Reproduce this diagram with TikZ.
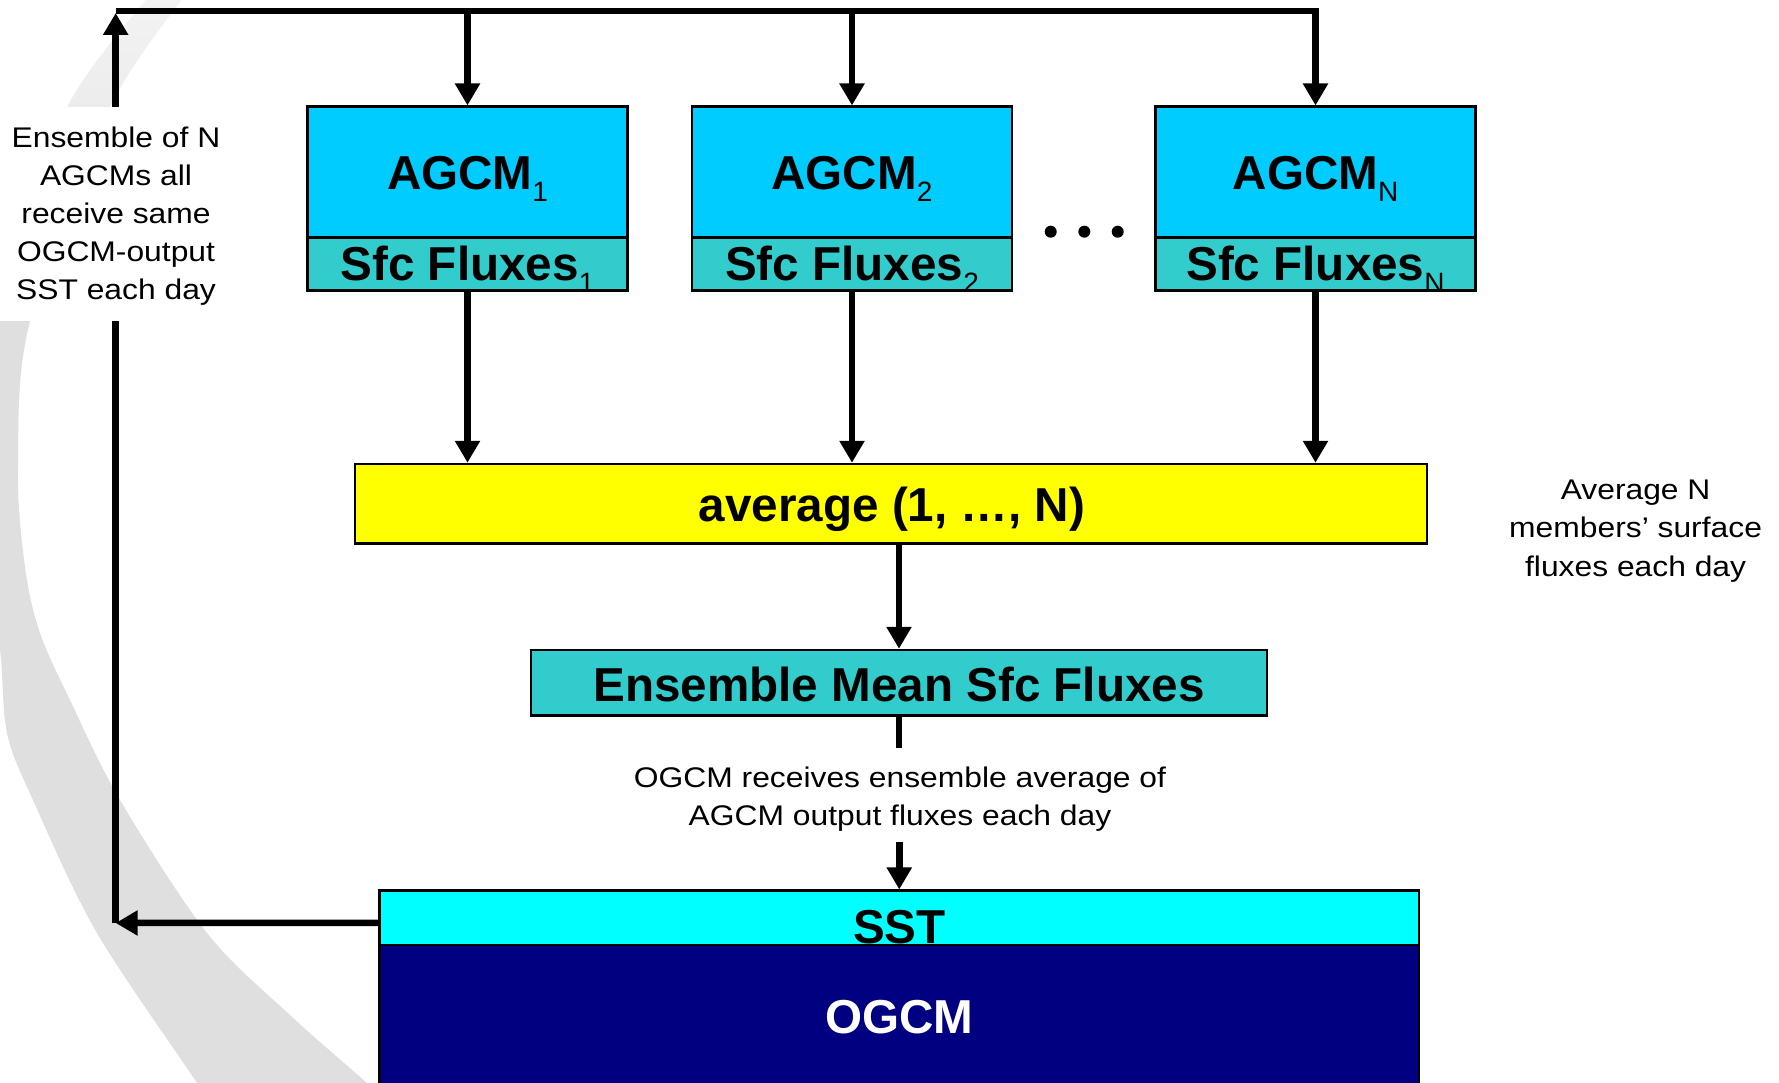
\documentclass[tikz,border=0pt]{standalone}
\usepackage{fontspec}
\setmainfont{Liberation Sans}
\newfontfamily\lblfont[FakeStretch=1.12]{Liberation Sans}
\usetikzlibrary{arrows.meta}
\definecolor{agcm}{RGB}{0,204,255}
\definecolor{sfc}{RGB}{51,204,204}
\definecolor{avgc}{RGB}{255,255,0}
\definecolor{sstc}{RGB}{0,255,255}
\definecolor{ogcmc}{RGB}{0,0,128}
\definecolor{band}{RGB}{223,223,223}
\definecolor{bandtop}{RGB}{244,244,244}
\newcommand{\subs}[1]{\raisebox{-12pt}{\mdseries\fontsize{28}{30}\selectfont #1}}
\def\bandpath{plot[smooth,tension=0.55] coordinates {(155,-10) (67,107) (-5,300) (-25,480) (-15,580) (0,650) (7,733) (33,800) (97,933) (197,1083) (205,1100)} -- plot[smooth,tension=0.55] coordinates {(385,1100) (367,1083) (290,1015) (207,933) (120,800) (70,700) (40,633) (25,567) (18,467) (30,321) (110,107) (190,-10)} -- cycle}
\begin{document}
\begin{tikzpicture}[x=1pt,y=-1pt,
 boxst/.style={draw=black, line width=2.5pt, inner sep=0pt, minimum width=320pt},
 bt/.style={font=\bfseries\fontsize{47.6}{50}\selectfont, inner sep=0pt, anchor=base},
 st/.style={font=\lblfont\fontsize{28.4}{30}\selectfont, inner sep=0pt, anchor=base},
 ln/.style={line width=6.5pt},
 arr/.style={ln, -{Triangle[length=22pt,width=24pt]}},
]
\useasboundingbox (0,0) rectangle (1779,1083);
\fill[white] (0,0) rectangle (1779,1083);
% background band
\begin{scope}
\clip (0,0) rectangle (1779,1083);
\clip \bandpath;
\fill[band] (-50,320) rectangle (500,1120);
\shade[top color=bandtop, bottom color=band] (-50,-20) rectangle (500,320.5);
\end{scope}
% label box
\node[fill=white, inner sep=0pt, minimum width=232pt, minimum height=214pt] (lbox) at (116,214) {};
% boxes
\node[boxst, fill=agcm, minimum height=130.8pt] (a1) at (467.5,172.1) {};
\node[boxst, fill=sfc, minimum height=53pt] (s1) at (467.5,264) {};
\node[boxst, fill=agcm, minimum height=130.8pt] (a2) at (852,172.1) {};
\node[boxst, fill=sfc, minimum height=53pt] (s2) at (852,264) {};
\node[boxst, fill=agcm, minimum height=130.8pt] (aN) at (1315.5,172.1) {};
\node[boxst, fill=sfc, minimum height=53pt] (sN) at (1315.5,264) {};
\node[boxst, fill=avgc, minimum width=1072pt, minimum height=79.5pt] (avg) at (891,503.75) {};
\node[boxst, fill=sfc, minimum width=736pt, minimum height=65.7pt] (em) at (899,682.85) {};
\node[boxst, fill=sstc, minimum width=1039.5pt, minimum height=54.3pt] (sst) at (899.25,917.85) {};
\node[boxst, fill=ogcmc, minimum width=1039.5pt, minimum height=155pt] (ogcm) at (899.25,1022.5) {};
% dots
\foreach \x/\n in {1050.7/d1,1084.3/d2,1117.7/d3}
  \node[circle, fill=black, inner sep=0pt, minimum size=12pt] (\n) at (\x,231.7) {};
% coordinates
\coordinate (tl) at (115.7,11);
\coordinate (bl) at (115.7,923);
\coordinate (tr) at (aN.north |- tl);
% connectors
\draw[arr] ([yshift=-5pt]sst.west) -- (bl);
\draw[ln] (bl) -- (bl |- lbox.south);
\draw[arr] (bl |- lbox.north) -- ([yshift=-2pt]tl);
\draw[arr] (tl) -- (tr) -- (aN.north);
\draw[arr] (a1.north |- tl) -- (a1.north);
\draw[arr] (a2.north |- tl) -- (a2.north);
\draw[arr] (s1.south) -- (s1.south |- avg.north);
\draw[arr] (s2.south) -- (s2.south |- avg.north);
\draw[arr] (sN.south) -- (sN.south |- avg.north);
\draw[arr] (avg.south -| em.north) -- (em.north);
\path (em.south) ++(0,31) coordinate (emend);
\draw[ln] (em.south) -- (emend);
\path (sst.north) ++(0,-47) coordinate (sstin);
\draw[arr] (sstin) -- (sst.north);
% texts
\node[bt] (t1) at (467.5,190) {AGCM\subs{1}};
\node[bt] (f1) at (467.5,280) {Sfc Fluxes\subs{1}};
\node[bt] (t2) at (852,190) {AGCM\subs{2}};
\node[bt] (f2) at (852,280) {Sfc Fluxes\subs{2}};
\node[bt] (tN) at (1315.5,190) {AGCM\subs{N}};
\node[bt] (fN) at (1315.5,280) {Sfc Fluxes\subs{N}};
\node[bt] (tavg) at (892,521.7) {average (1, …, N)};
\node[bt] (tem) at (899,701) {Ensemble Mean Sfc Fluxes};
\node[bt] (tsst) at (899.5,943) {SST};
\node[bt, text=white] (togcm) at (899.5,1033) {OGCM};
\node[st] (c1) at (900,787.3) {OGCM receives ensemble average of};
\node[st] (c2) at (900,825) {AGCM output fluxes each day};
\node[st] (r1) at (1635.6,499) {Average N};
\node[st] (r2) at (1635.6,537) {members’ surface};
\node[st] (r3) at (1635.6,576) {fluxes each day};
\foreach \t [count=\i] in {Ensemble of N,AGCMs all,receive same,OGCM-output,SST each day}
  \node[st] (l\i) at (116,{147.7+38*(\i-1)}) {\t};
\end{tikzpicture}
\end{document}
